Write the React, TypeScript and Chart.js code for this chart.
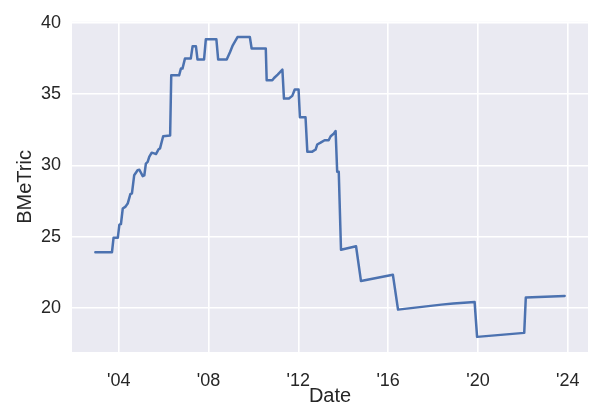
import React, { useEffect, useRef } from "react";
import { Chart, registerables } from "chart.js";

Chart.register(...registerables);

// Decimal years of each vertex of the series
const years: number[] = [
  2002.96, 2003.70, 2003.77, 2003.96, 2004.03, 2004.10, 2004.18, 2004.29, 2004.40, 2004.52,
  2004.59, 2004.69, 2004.84, 2004.92, 2005.07, 2005.14, 2005.21, 2005.29, 2005.36, 2005.47,
  2005.58, 2005.66, 2005.78, 2005.84, 2005.98, 2006.29, 2006.34, 2006.69, 2006.77, 2006.84,
  2006.95, 2007.21, 2007.29, 2007.44, 2007.51, 2007.80, 2007.88, 2008.35, 2008.43, 2008.81,
  2008.96, 2009.08, 2009.29, 2009.84, 2009.92, 2010.55, 2010.59, 2010.84, 2010.92, 2011.08,
  2011.29, 2011.36, 2011.58, 2011.73, 2011.84, 2012.01, 2012.07, 2012.32, 2012.40, 2012.62,
  2012.77, 2012.84, 2012.99, 2013.17, 2013.35, 2013.44, 2013.56, 2013.66, 2013.73, 2013.80,
  2013.90, 2014.57, 2014.79, 2016.21, 2016.44, 2018.37, 2018.90, 2019.85, 2019.96, 2022.06,
  2022.13, 2023.86,
];

const bmetric: number[] = [
  23.92, 23.92, 24.93, 24.93, 25.86, 25.9, 26.98, 27.1, 27.33, 27.99,
  28.05, 29.32, 29.67, 29.7, 29.25, 29.3, 30.13, 30.25, 30.6, 30.9,
  30.85, 30.8, 31.14, 31.2, 32.05, 32.1, 36.32, 36.32, 36.79, 36.79,
  37.49, 37.49, 38.35, 38.35, 37.42, 37.42, 38.84, 38.84, 37.42, 37.42,
  37.96, 38.42, 39.0, 39.0, 38.2, 38.2, 35.97, 35.97, 36.13, 36.37,
  36.72, 34.69, 34.69, 34.88, 35.32, 35.32, 33.38, 33.38, 30.97, 30.97,
  31.12, 31.47, 31.6, 31.77, 31.77, 32.05, 32.2, 32.42, 29.56, 29.56,
  24.1, 24.34, 21.9, 22.35, 19.9, 20.25, 20.33, 20.44, 17.99, 18.27,
  20.75, 20.86,
];

const xTicks: number[] = [2004, 2008, 2012, 2016, 2020, 2024];
const yTicks: number[] = [20, 25, 30, 35, 40];

const FONT = "'Liberation Sans', Arial, 'DejaVu Sans', sans-serif";
const TEXT = "#262626";

export default function App() {
  const ref = useRef<HTMLCanvasElement | null>(null);

  useEffect(() => {
    if (!ref.current) return;
    const bgPlugin = {
      id: "bg",
      beforeDraw(chart: any) {
        const { ctx, chartArea } = chart;
        ctx.save();
        ctx.fillStyle = "#EAEAF2";
        ctx.fillRect(chartArea.left, chartArea.top, chartArea.right - chartArea.left, chartArea.bottom - chartArea.top);
        ctx.restore();
      },
    };
    const chart = new Chart(ref.current, {
      type: "line",
      data: {
        datasets: [
          {
            label: "BMeTric",
            data: years.map((x, i) => ({ x, y: bmetric[i] })),
            borderColor: "#4C72B0",
            borderWidth: 2.5,
            borderJoinStyle: "round",
            borderCapStyle: "round",
            pointRadius: 0,
            tension: 0,
            fill: false,
          },
        ],
      },
      options: {
        animation: false,
        responsive: false,
        devicePixelRatio: 1,
        layout: { padding: { top: 21, right: 12, left: 0, bottom: 0 } },
        plugins: { legend: { display: false }, tooltip: { enabled: false } },
        scales: {
          x: {
            type: "linear",
            min: 2001.92,
            max: 2024.9,
            afterBuildTicks: (s: any) => {
              s.ticks = xTicks.map((v) => ({ value: v }));
            },
            afterFit: (s: any) => {
              s.height = 68;
            },
            ticks: {
              callback: (v: any) => "'" + String(v).slice(2),
              font: { family: FONT, size: 18 },
              color: TEXT,
              padding: 18,
              maxRotation: 0,
            },
            grid: { color: "#FFFFFF", lineWidth: 1.6, drawTicks: false },
            border: { display: false },
            title: {
              display: true,
              text: "Date",
              font: { family: FONT, size: 20 },
              color: TEXT,
              padding: { top: 0, bottom: 12 },
            },
          },
          y: {
            type: "linear",
            min: 16.93,
            max: 40.07,
            afterBuildTicks: (s: any) => {
              s.ticks = yTicks.map((v) => ({ value: v }));
            },
            afterFit: (s: any) => {
              s.width = 72;
            },
            ticks: {
              font: { family: FONT, size: 18 },
              color: TEXT,
              padding: 11,
            },
            grid: { color: "#FFFFFF", lineWidth: 1.6, drawTicks: false },
            border: { display: false },
            title: {
              display: true,
              text: "BMeTric",
              font: { family: FONT, size: 20 },
              color: TEXT,
              padding: { top: 13, bottom: 0 },
            },
          },
        },
      },
      plugins: [bgPlugin],
    });
    return () => chart.destroy();
  }, []);

  return (
    <div style={{ position: "absolute", left: 0, top: 0, width: 600, height: 420, background: "#fff" }}>
      <canvas ref={ref} width={600} height={420} style={{ width: 600, height: 420 }} />
    </div>
  );
}
